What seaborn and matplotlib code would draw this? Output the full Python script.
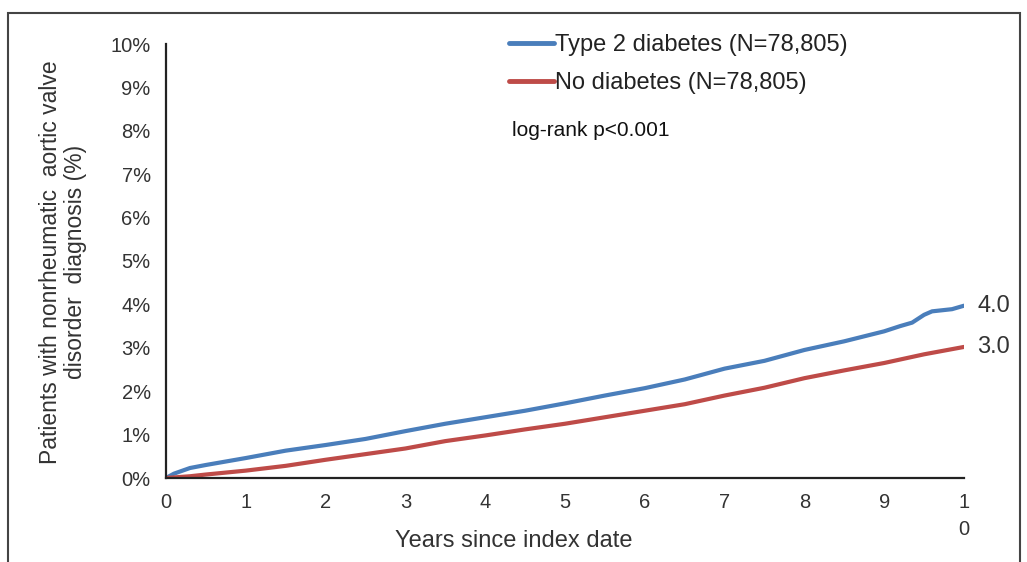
import matplotlib
matplotlib.use("Agg")
import matplotlib.pyplot as plt
import matplotlib.patches as mpatches
from matplotlib.lines import Line2D
import seaborn as sns
import pandas as pd

years_t2d = [0, 0.1, 0.3, 0.5, 1.0, 1.5, 2.0, 2.5, 3.0, 3.5, 4.0, 4.5, 5.0, 5.5,
             6.0, 6.5, 7.0, 7.5, 8.0, 8.5, 9.0, 9.2, 9.35, 9.5, 9.6, 9.85, 10.0]
pct_t2d = [0, 0.10, 0.23, 0.30, 0.46, 0.63, 0.76, 0.90, 1.08, 1.25, 1.40, 1.55, 1.72, 1.90,
           2.07, 2.27, 2.52, 2.70, 2.95, 3.15, 3.38, 3.50, 3.58, 3.76, 3.84, 3.89, 3.97]
years_nod = [0, 0.3, 0.5, 1.0, 1.5, 2.0, 2.5, 3.0, 3.5, 4.0, 4.5, 5.0, 5.5,
             6.0, 6.5, 7.0, 7.5, 8.0, 8.5, 9.0, 9.5, 10.0]
pct_nod = [0, 0.04, 0.08, 0.17, 0.28, 0.42, 0.55, 0.68, 0.85, 0.98, 1.12, 1.25, 1.40,
           1.55, 1.70, 1.90, 2.08, 2.30, 2.48, 2.65, 2.85, 3.02]
series_names = ["Type 2 diabetes (N=78,805)", "No diabetes (N=78,805)"]
end_labels = ["4.0", "3.0"]
x_ticks = [0, 1, 2, 3, 4, 5, 6, 7, 8, 9, 10]
x_ticklabels = ["0", "1", "2", "3", "4", "5", "6", "7", "8", "9", "1\n0"]
y_ticks = [0, 1, 2, 3, 4, 5, 6, 7, 8, 9, 10]
y_ticklabels = [f"{v}%" for v in y_ticks]

df = pd.concat([
    pd.DataFrame({"year": years_t2d, "pct": pct_t2d, "group": series_names[0]}),
    pd.DataFrame({"year": years_nod, "pct": pct_nod, "group": series_names[1]}),
])

sns.set_theme(style="white")
plt.rcParams["font.family"] = ["Liberation Sans", "DejaVu Sans"]

fig = plt.figure(figsize=(10.27, 5.62), dpi=100)
ax = fig.add_axes([166/1027, 1-478/562, (964-166)/1027, (478-44)/562])

colors = ["#4a7ebb", "#be4b48"]
sns.lineplot(data=df, x="year", y="pct", hue="group", palette=colors,
             linewidth=3, ax=ax, legend=False, estimator=None, sort=False)

ax.set_xlim(0, 10)
ax.set_ylim(0, 10)
ax.set_xticks(x_ticks)
ax.set_xticklabels(x_ticklabels, fontsize=14.5, color="#333333", va="top", linespacing=1.5)
ax.set_yticks(y_ticks)
ax.set_yticklabels(y_ticklabels, fontsize=14.5, color="#333333")
ax.tick_params(axis="x", length=0, pad=11)
ax.tick_params(axis="y", length=0, pad=11)
for s in ["top", "right"]:
    ax.spines[s].set_visible(False)
for s in ["left", "bottom"]:
    ax.spines[s].set_color("#222222")
    ax.spines[s].set_linewidth(1.6)
ax.set_xlabel("")
ax.set_ylabel("")

# end labels
ax.text(10.17, pct_t2d[-1], end_labels[0], fontsize=17, color="#333333", va="center", ha="left")
ax.text(10.17, pct_nod[-1], end_labels[1], fontsize=17, color="#333333", va="center", ha="left")

# legend
handles = [Line2D([0], [0], color=c, lw=3.5) for c in colors]
leg = fig.legend(handles, series_names, loc="upper left",
                 bbox_to_anchor=(488/1027, 1-13/562), frameon=False, fontsize=17,
                 handlelength=1.9, handletextpad=0.05, labelspacing=0.68,
                 labelcolor="#222222")

fig.text(512/1027, 1-131/562, "log-rank p<0.001", fontsize=15, color="#111111",
         va="center", ha="left")

fig.text(514/1027, 1-541/562, "Years since index date", fontsize=17, color="#333333",
         ha="center", va="center")
fig.text(63/1027, 1-262/562, "Patients with nonrheumatic  aortic valve\ndisorder  diagnosis (%)",
         fontsize=16.5, color="#333333", rotation=90, ha="center", va="center",
         multialignment="center", linespacing=1.1)

# outer frame
rect = mpatches.Rectangle((8/1027, -0.1), (1020-8)/1027, (1-13/562)+0.1,
                          transform=fig.transFigure, fill=False,
                          edgecolor="#444444", linewidth=1.5)
fig.patches.append(rect)

fig.savefig("out.png", dpi=100)
